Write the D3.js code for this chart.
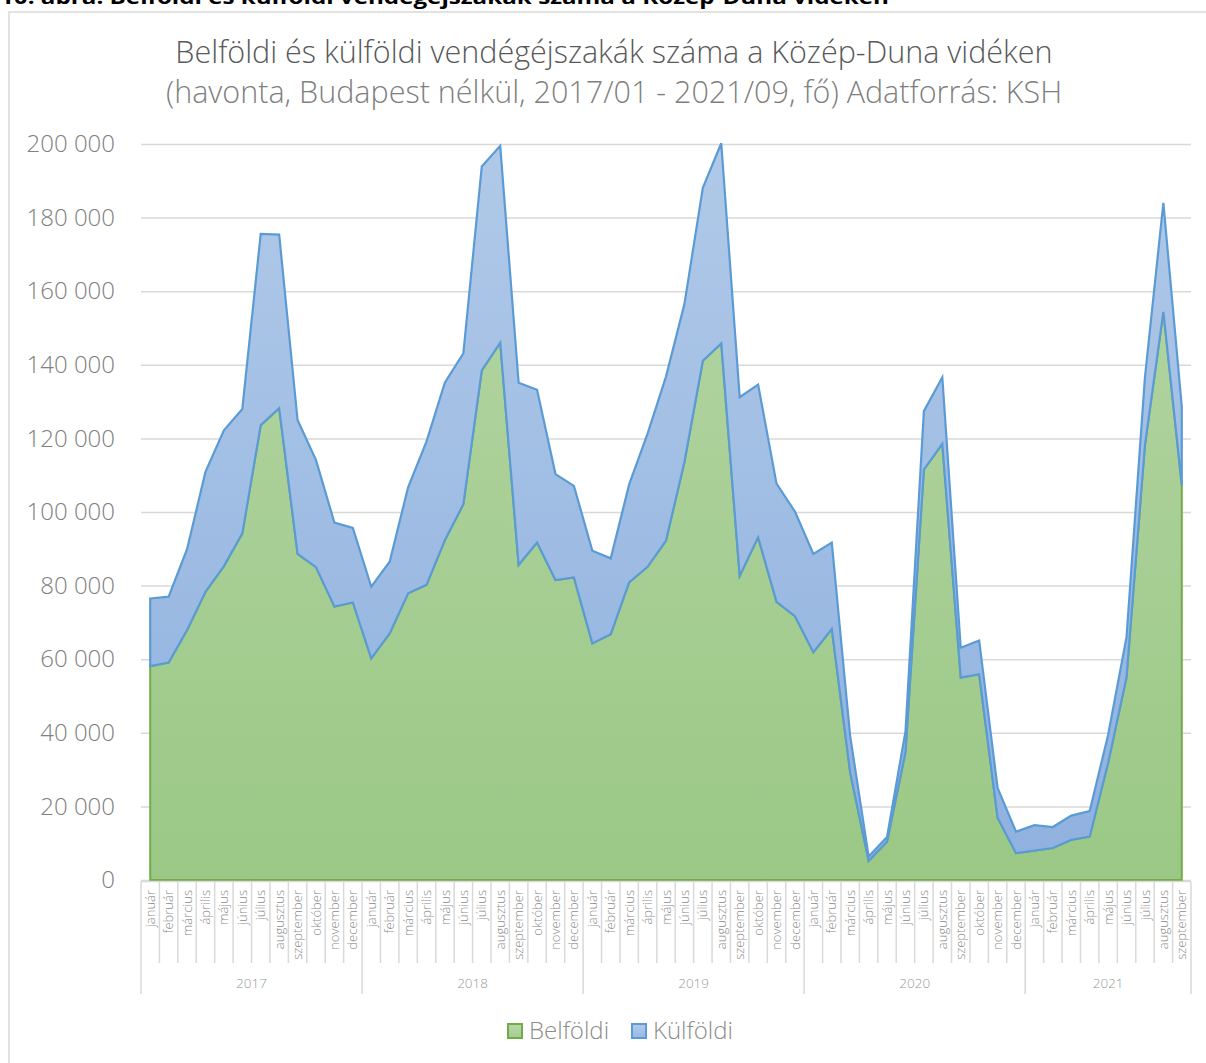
<!DOCTYPE html>
<html>
<head>
<meta charset="utf-8">
<script src="https://cdn.jsdelivr.net/npm/d3@7"></script>
<style>
  body { margin: 0; background: #fff; }
  svg { display: block; font-family: "Open Sans", sans-serif; }
  .grid line { stroke: #d9d9d9; stroke-width: 1.5; }
  .grid path { display: none; }
  .ylab text { fill: #808080; font-size: 24px; font-weight: 300; }
  .mlab { fill: #8c8c8c; font-size: 13px; font-weight: 300; }
  .yearlab { fill: #999; font-size: 13.5px; font-weight: 300; }
</style>
</head>
<body>
<div id="chart"></div>
<script>
// havi vendégéjszakák, 2017/01 - 2021/09 (leolvasott értékek)
var months = ['január','február','március','április','május','június','július',
              'augusztus','szeptember','október','november','december'];
var years = ['2017','2018','2019','2020','2021'];
var monthsInYear = [12, 12, 12, 12, 9];

var belfoldi = [
  58100, 59100, 67900, 78300, 85300, 94200, 123600, 128200, 88600, 85000, 74300, 75400,
  60200, 67000, 77900, 80200, 92400, 102100, 138500, 146000, 85600, 91700, 81500, 82200,
  64300, 66800, 80900, 85100, 92200, 113600, 141100, 145800, 82600, 93100, 75600, 71700,
  61900, 68200, 29100, 5200, 10400, 34700, 111500, 118500, 55000, 55900, 16900, 7300,
  8000, 8700, 10900, 11800, 31800, 55100, 118200, 154400, 107300
];
var kulfoldi = [
  18400, 17900, 22000, 32600, 36900, 33800, 52000, 47200, 36400, 29100, 22800, 20300,
  19500, 19500, 28800, 39000, 42800, 41000, 55400, 53500, 49500, 41500, 28800, 24900,
  25200, 20600, 26600, 36200, 44600, 42900, 47000, 54400, 48600, 41500, 32100, 28400,
  26700, 23500, 9900, 1200, 1300, 5700, 15900, 18100, 8100, 9200, 8100, 5800,
  6900, 5700, 6600, 6900, 7600, 10900, 18400, 29600, 21300
];
var yTicks = [0, 20000, 40000, 60000, 80000, 100000, 120000, 140000, 160000, 180000, 200000];
var seriesNames = ['Belföldi', 'Külföldi'];

var W = 1206, H = 1063;
var plot = {left: 141, right: 1191, top: 144, bottom: 880};

// build category list
var cats = [];
years.forEach(function(y, yi) {
  for (var m = 0; m < monthsInYear[yi]; m++) cats.push({year: y, month: months[m], yi: yi});
});
var rows = cats.map(function(c, i) {
  return {i: i, Belföldi: belfoldi[i], Külföldi: kulfoldi[i]};
});

var svg = d3.select('#chart').append('svg').attr('width', W).attr('height', H);

// gradients
var defs = svg.append('defs');
function grad(id, c1, c2) {
  var g = defs.append('linearGradient').attr('id', id)
    .attr('gradientUnits', 'userSpaceOnUse')
    .attr('x1', 0).attr('y1', plot.top).attr('x2', 0).attr('y2', plot.bottom);
  g.append('stop').attr('offset', '0%').attr('stop-color', c1);
  g.append('stop').attr('offset', '100%').attr('stop-color', c2);
}
grad('gGreen', '#b6d6a6', '#9bc886');
grad('gBlue', '#b0c9e8', '#8fb1df');
var lg = defs.append('linearGradient').attr('id', 'lgGreen').attr('x1', 0).attr('y1', 0).attr('x2', 0).attr('y2', 1);
lg.append('stop').attr('offset', '0%').attr('stop-color', '#b9d8a9');
lg.append('stop').attr('offset', '100%').attr('stop-color', '#a3cc8f');
var lb = defs.append('linearGradient').attr('id', 'lgBlue').attr('x1', 0).attr('y1', 0).attr('x2', 0).attr('y2', 1);
lb.append('stop').attr('offset', '0%').attr('stop-color', '#b3cbea');
lb.append('stop').attr('offset', '100%').attr('stop-color', '#98b8e2');

// outer frame + clipped figure caption at the very top
svg.append('rect').attr('x', 9).attr('y', 12).attr('width', W).attr('height', H)
  .attr('fill', 'none').attr('stroke', '#d9d9d9').attr('stroke-width', 1.5);
svg.append('text').attr('x', 0).attr('y', 4)
  .attr('font-size', 20).attr('font-weight', 700).attr('fill', '#000')
  .attr('textLength', 889).attr('lengthAdjust', 'spacingAndGlyphs')
  .text('10. ábra: Belföldi és külföldi vendégéjszakák száma a Közép-Duna vidéken');

// titles
svg.append('text').attr('x', 614).attr('y', 63).attr('text-anchor', 'middle')
  .attr('font-size', 30.5).attr('font-weight', 300).attr('fill', '#595959')
  .text('Belföldi és külföldi vendégéjszakák száma a Közép-Duna vidéken');
svg.append('text').attr('x', 614).attr('y', 103).attr('text-anchor', 'middle')
  .attr('font-size', 30.5).attr('font-weight', 300).attr('fill', '#7f7f7f')
  .text('(havonta, Budapest nélkül, 2017/01 - 2021/09, fő) Adatforrás: KSH');

// scales
var x = d3.scaleBand().domain(d3.range(cats.length)).range([plot.left, plot.right]);
var y = d3.scaleLinear().domain([0, 200000]).range([plot.bottom, plot.top]);
var cx = function(i) { return x(i) + x.bandwidth() / 2; };

var huLocale = d3.formatLocale({decimal: ',', thousands: ' ', grouping: [3], currency: ['', '']});
var fmt = huLocale.format(',');

// gridlines
svg.append('g').attr('class', 'grid')
  .attr('transform', 'translate(' + plot.left + ',0)')
  .call(d3.axisLeft(y).tickValues(yTicks).tickSize(-(plot.right - plot.left)).tickFormat(''));

// y labels
var yax = svg.append('g').attr('class', 'ylab')
  .attr('transform', 'translate(' + plot.left + ',0)')
  .call(d3.axisLeft(y).tickValues(yTicks).tickSize(0).tickPadding(26).tickFormat(fmt));
yax.select('.domain').remove();
yax.selectAll('text').attr('font-family', '"Open Sans", sans-serif');

// stacked areas
var stack = d3.stack().keys(seriesNames);
var layers = stack(rows);
var area = d3.area()
  .x(function(d, i) { return cx(i); })
  .y0(function(d) { return y(d[0]); })
  .y1(function(d) { return y(d[1]); });

svg.append('path').datum(layers[0]).attr('d', area)
  .attr('fill', 'url(#gGreen)').attr('stroke', '#70ad47').attr('stroke-width', 2)
  .attr('stroke-linejoin', 'miter');
svg.append('path').datum(layers[1]).attr('d', area)
  .attr('fill', 'url(#gBlue)').attr('stroke', '#5b9bd5').attr('stroke-width', 2.2)
  .attr('stroke-linejoin', 'miter');

// category axis
var axisG = svg.append('g');
var ax0 = plot.bottom + 1.5;
axisG.append('line').attr('x1', plot.left).attr('x2', plot.right)
  .attr('y1', ax0).attr('y2', ax0).attr('stroke', '#d9d9d9').attr('stroke-width', 1.5);

// boundaries between months, longer ones between years
var yearStart = [];
var acc = 0;
monthsInYear.forEach(function(n) { yearStart.push(acc); acc += n; });
yearStart.push(acc);
d3.range(cats.length + 1).forEach(function(i) {
  var isYear = yearStart.indexOf(i) >= 0;
  var xx = i < cats.length ? x(i) : x(cats.length - 1) + x.bandwidth();
  axisG.append('line').attr('x1', xx).attr('x2', xx)
    .attr('y1', ax0).attr('y2', isYear ? 994 : 963)
    .attr('stroke', '#d9d9d9').attr('stroke-width', 1.5);
});

axisG.selectAll('.mlab').data(cats).enter().append('text')
  .attr('class', 'mlab')
  .attr('transform', function(d, i) { return 'translate(' + cx(i) + ',890) rotate(-90)'; })
  .attr('text-anchor', 'end').attr('dy', '0.35em')
  .text(function(d) { return d.month; });

axisG.selectAll('.yearlab').data(years).enter().append('text')
  .attr('class', 'yearlab')
  .attr('x', function(d, k) {
    var a = x(yearStart[k]);
    var b = x(yearStart[k + 1] - 1) + x.bandwidth();
    return (a + b) / 2;
  })
  .attr('y', 988).attr('text-anchor', 'middle')
  .text(function(d) { return d; });

// legend
var legend = svg.append('g').attr('transform', 'translate(507,1024)');
var legItems = [
  {name: seriesNames[0], fill: 'url(#lgGreen)', stroke: '#70ad47', dx: 0},
  {name: seriesNames[1], fill: 'url(#lgBlue)', stroke: '#5b9bd5', dx: 124}
];
legItems.forEach(function(it) {
  var g = legend.append('g').attr('transform', 'translate(' + it.dx + ',0)');
  g.append('rect').attr('x', 1).attr('y', 0).attr('width', 14).attr('height', 14)
    .attr('fill', it.fill).attr('stroke', it.stroke).attr('stroke-width', 2);
  g.append('text').attr('x', 22).attr('y', 15).attr('font-size', 24).attr('font-weight', 300)
    .attr('fill', '#8c8c8c').text(it.name);
});
</script>
</body>
</html>
